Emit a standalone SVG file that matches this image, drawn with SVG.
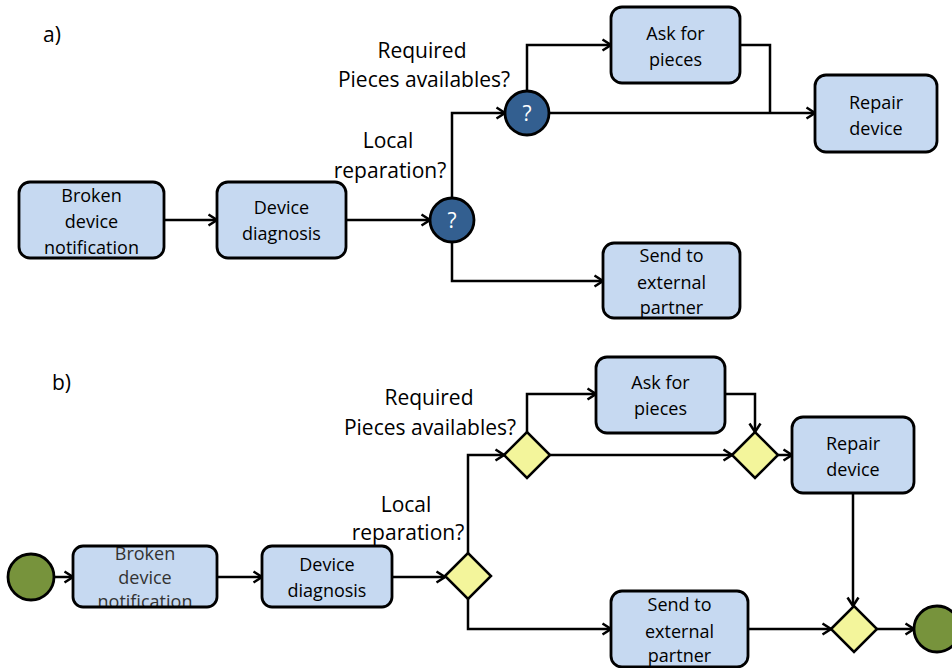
<svg xmlns="http://www.w3.org/2000/svg" width="952" height="668" viewBox="0 0 952 668">
  <style>
    .task rect { fill: #c6d9f1; stroke: #000; stroke-width: 2.8; }
    .task text, .lbl { font-family: "Open Sans", "Liberation Sans", sans-serif; fill: #000; text-anchor: middle; }
    .task text { font-size: 18px; }
    .lbl { font-size: 21px; }
    .tag { font-family: "Open Sans", "Liberation Sans", sans-serif; font-size: 21px; fill: #000; }
    .xor circle { fill: #335f90; stroke: #000; stroke-width: 2.8; }
    .xor text { font-family: "Open Sans", "Liberation Sans", sans-serif; font-size: 21px; fill: #fff; text-anchor: middle; }
    .gw polygon { fill: #f3f59b; stroke: #000; stroke-width: 2.5; }
    .ev circle { fill: #77933c; stroke: #000; stroke-width: 2.8; }
    .flow path { fill: none; stroke: #000; stroke-width: 2.5; }
    .flow path.a { marker-end: url(#arrow); }
  </style>
  <defs>
    <marker id="arrow" markerUnits="userSpaceOnUse" markerWidth="12" markerHeight="14" viewBox="0 0 12 14" refX="10.5" refY="7" orient="auto">
      <path d="M2,1.5 L10.5,7 L2,12.5" fill="none" stroke="#000" stroke-width="2.5"/>
    </marker>
    <!-- overflowing labels are cut at the task border -->
    <clipPath id="clip-b-broken"><rect x="73" y="546" width="144" height="61" rx="10"/></clipPath>
    <clipPath id="clip-b-send"><rect x="611" y="591" width="137" height="76" rx="11"/></clipPath>
  </defs>

  <!-- ===== a) ===== -->
  <text class="tag" x="43" y="42">a)</text>

  <g class="flow" id="flows-a">
    <path class="a" d="M164,220 H217"/>
    <path class="a" d="M346,220 H430"/>
    <path class="a" d="M452,198 V113 H505"/>
    <path class="a" d="M452,242 V281 H603"/>
    <path class="a" d="M527,91 V45 H611"/>
    <path class="a" d="M549,113 H815"/>
    <path d="M740,45 H770 V113"/>
  </g>

  <g class="task" id="a-broken">
    <rect x="19" y="182" width="145" height="76" rx="11"/>
    <text x="91.5" y="201.5">Broken</text>
    <text x="91.5" y="227.5">device</text>
    <text x="91.5" y="253.5">notification</text>
  </g>
  <g class="task" id="a-diagnosis">
    <rect x="217" y="182" width="129" height="76" rx="11"/>
    <text x="281.5" y="213.5">Device</text>
    <text x="281.5" y="239.5">diagnosis</text>
  </g>
  <g class="xor" id="a-local">
    <circle cx="452" cy="220" r="22"/>
    <text x="452" y="227.5">?</text>
  </g>
  <g class="xor" id="a-pieces">
    <circle cx="527" cy="113" r="22"/>
    <text x="527" y="120.5">?</text>
  </g>
  <g class="task" id="a-ask">
    <rect x="611" y="7" width="129" height="76" rx="11"/>
    <text x="675.5" y="39.5">Ask for</text>
    <text x="675.5" y="65.5">pieces</text>
  </g>
  <g class="task" id="a-repair">
    <rect x="815" y="75" width="122" height="77" rx="11"/>
    <text x="876" y="108.5">Repair</text>
    <text x="876" y="134.5">device</text>
  </g>
  <g class="task" id="a-send">
    <rect x="603" y="243" width="137" height="75" rx="11"/>
    <text x="671.5" y="261.5">Send to</text>
    <text x="671.5" y="288.5">external</text>
    <text x="671.5" y="313.5">partner</text>
  </g>

  <g id="labels-a">
    <text class="lbl" x="422" y="57.5">Required</text>
    <text class="lbl" x="424" y="86.5">Pieces availables?</text>
    <text class="lbl" x="388" y="148">Local</text>
    <text class="lbl" x="390" y="177.5">reparation?</text>
  </g>

  <!-- ===== b) ===== -->
  <text class="tag" x="52" y="390">b)</text>

  <g class="flow" id="flows-b">
    <path class="a" d="M54,577 H73"/>
    <path class="a" d="M217,577 H262"/>
    <path class="a" d="M392,577 H445"/>
    <path class="a" d="M468,553 V455 H504"/>
    <path class="a" d="M468,599 V629 H611"/>
    <path class="a" d="M527,432 V394 H596"/>
    <path class="a" d="M550,455 H732"/>
    <path class="a" d="M725,394 H755 V432"/>
    <path class="a" d="M778,455 H792"/>
    <path class="a" d="M853,493 V606"/>
    <path class="a" d="M748,629 H831"/>
    <path class="a" d="M877,629 H914"/>
  </g>

  <g class="ev" id="b-start">
    <circle cx="31" cy="577" r="23"/>
  </g>
  <g class="task" id="b-broken">
    <rect x="73" y="546" width="144" height="61" rx="10" style="stroke:none"/>
    <g clip-path="url(#clip-b-broken)">
      <text x="145" y="559.5" style="fill:#333">Broken</text>
      <text x="145" y="583.5" style="fill:#333">device</text>
      <text x="145" y="607.5" style="fill:#333">notification</text>
    </g>
    <rect x="73" y="546" width="144" height="61" rx="10" style="fill:none"/>
  </g>
  <g class="task" id="b-diagnosis">
    <rect x="262" y="546" width="130" height="61" rx="10"/>
    <text x="327" y="570.5">Device</text>
    <text x="327" y="596.5">diagnosis</text>
  </g>
  <g class="gw" id="b-local">
    <polygon points="445,576 468,553 491,576 468,599"/>
  </g>
  <g class="gw" id="b-pieces">
    <polygon points="504,455 527,432 550,455 527,478"/>
  </g>
  <g class="task" id="b-ask">
    <rect x="596" y="357" width="129" height="76" rx="11"/>
    <text x="660.5" y="388.5">Ask for</text>
    <text x="660.5" y="414.5">pieces</text>
  </g>
  <g class="gw" id="b-merge">
    <polygon points="732,455 755,432 778,455 755,478"/>
  </g>
  <g class="task" id="b-repair">
    <rect x="792" y="417" width="122" height="76" rx="11"/>
    <text x="853" y="449.5">Repair</text>
    <text x="853" y="475.5">device</text>
  </g>
  <g class="task" id="b-send">
    <rect x="611" y="591" width="137" height="76" rx="11" style="stroke:none"/>
    <g clip-path="url(#clip-b-send)">
      <text x="679.5" y="610.5">Send to</text>
      <text x="679.5" y="637.5">external</text>
      <text x="679.5" y="661.5">partner</text>
    </g>
    <rect x="611" y="591" width="137" height="76" rx="11" style="fill:none"/>
  </g>
  <g class="gw" id="b-join">
    <polygon points="831,629 854,606 877,629 854,652"/>
  </g>
  <g class="ev" id="b-end">
    <circle cx="937" cy="629" r="23"/>
  </g>

  <g id="labels-b">
    <text class="lbl" x="429" y="405">Required</text>
    <text class="lbl" x="430" y="435">Pieces availables?</text>
    <text class="lbl" x="406" y="512">Local</text>
    <text class="lbl" x="408" y="540">reparation?</text>
  </g>
</svg>
